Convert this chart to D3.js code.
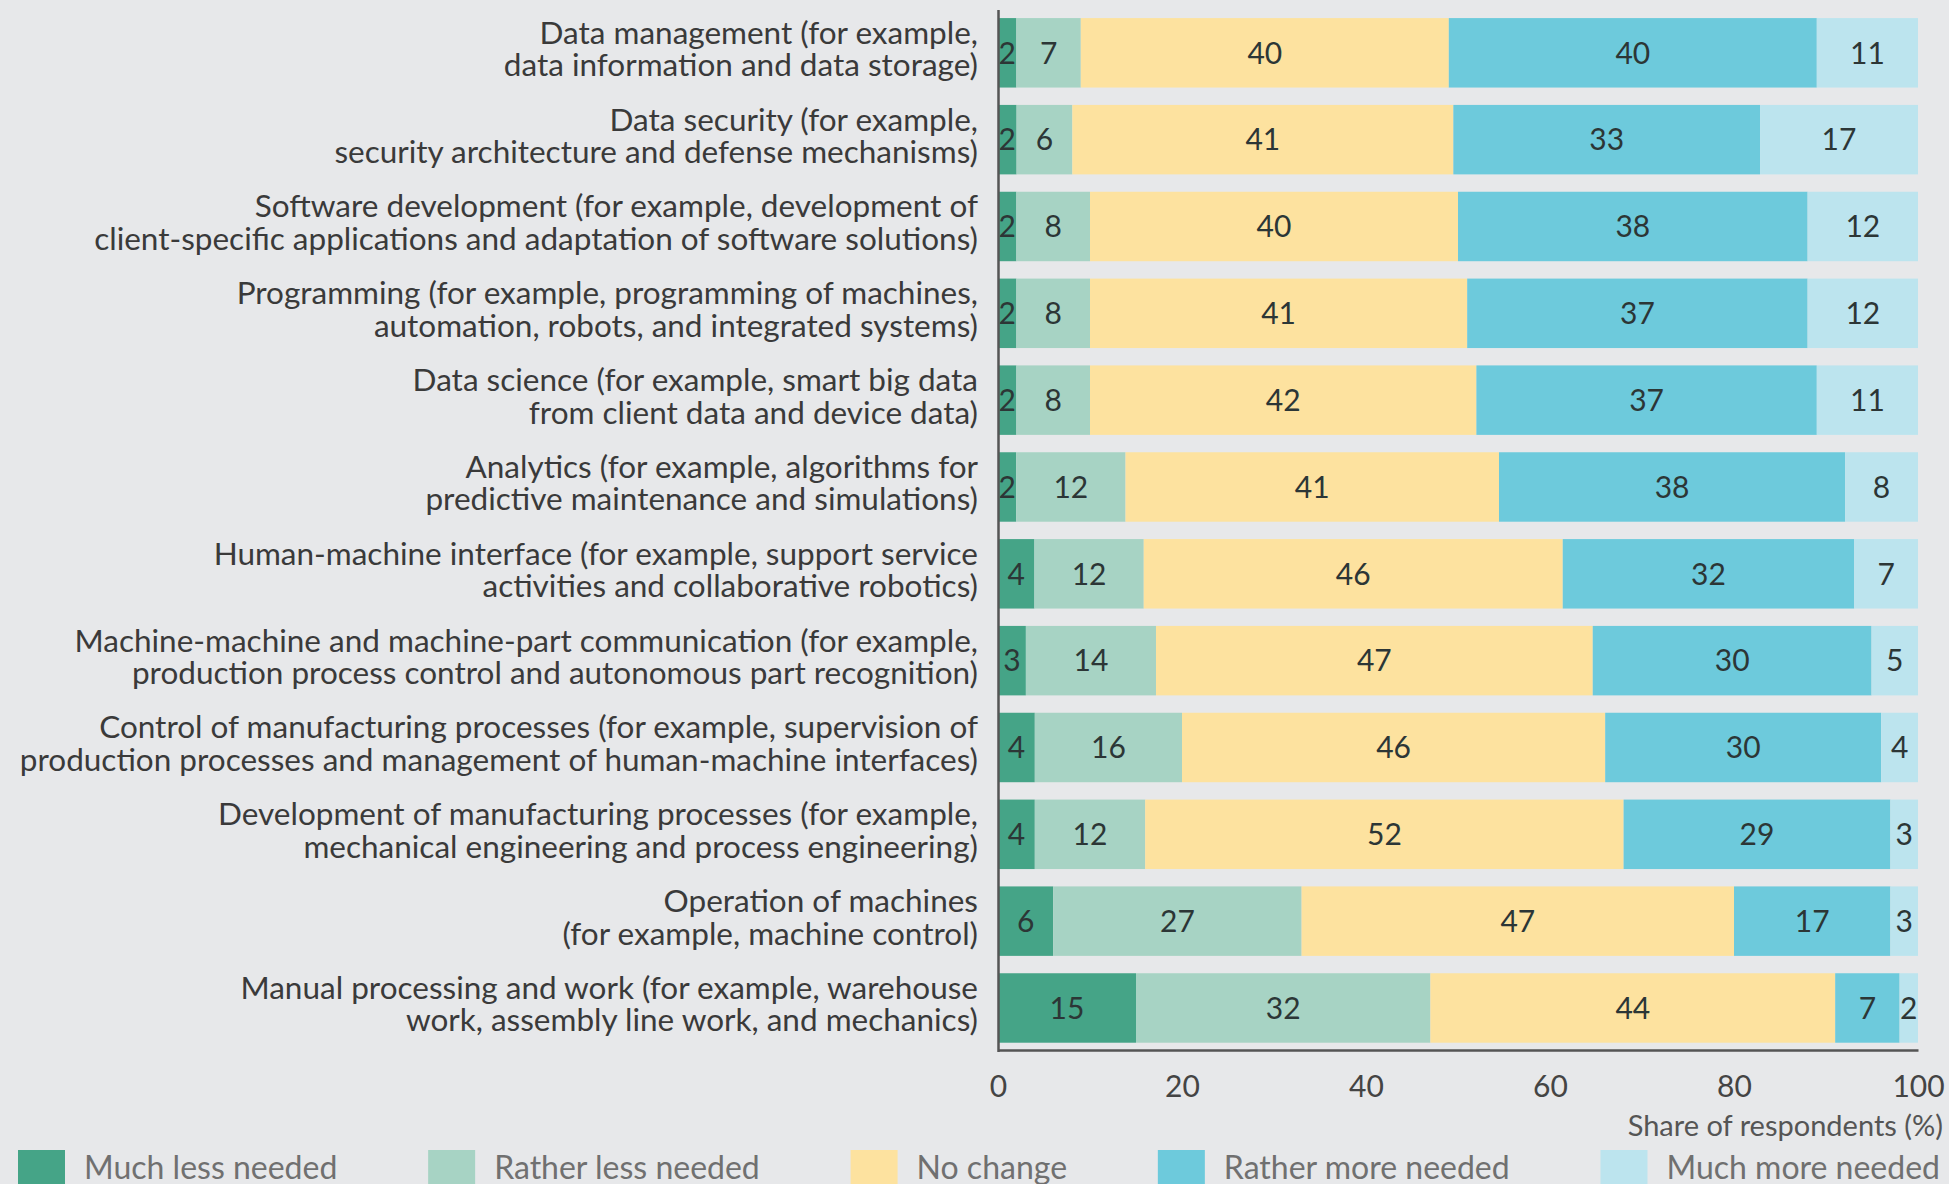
<!DOCTYPE html>
<html>
<head>
<meta charset="utf-8">
<script src="https://cdn.jsdelivr.net/npm/d3@7"></script>
<style>
  html, body { margin: 0; padding: 0; background: #e7e8ea; }
  svg { display: block; }
  text { font-family: Lato, "Open Sans", sans-serif; }
</style>
</head>
<body>
<svg id="chart" width="1949" height="1184"></svg>
<script>
// ---------- data ----------
const categories = [
  "Data management (for example,\ndata information and data storage)",
  "Data security (for example,\nsecurity architecture and defense mechanisms)",
  "Software development (for example, development of\nclient-specific applications and adaptation of software solutions)",
  "Programming (for example, programming of machines,\nautomation, robots, and integrated systems)",
  "Data science (for example, smart big data\nfrom client data and device data)",
  "Analytics (for example, algorithms for\npredictive maintenance and simulations)",
  "Human-machine interface (for example, support service\nactivities and collaborative robotics)",
  "Machine-machine and machine-part communication (for example,\nproduction process control and autonomous part recognition)",
  "Control of manufacturing processes (for example, supervision of\nproduction processes and management of human-machine interfaces)",
  "Development of manufacturing processes (for example,\nmechanical engineering and process engineering)",
  "Operation of machines\n(for example, machine control)",
  "Manual processing and work (for example, warehouse\nwork, assembly line work, and mechanics)"
];
const seriesNames = ["Much less needed", "Rather less needed", "No change", "Rather more needed", "Much more needed"];
const muchLess   = [2, 2, 2, 2, 2, 2, 4, 3, 4, 4, 6, 15];
const ratherLess = [7, 6, 8, 8, 8, 12, 12, 14, 16, 12, 27, 32];
const noChange   = [40, 41, 40, 41, 42, 41, 46, 47, 46, 52, 47, 44];
const ratherMore = [40, 33, 38, 37, 37, 38, 32, 30, 30, 29, 17, 7];
const muchMore   = [11, 17, 12, 12, 11, 8, 7, 5, 4, 3, 3, 2];
const xTicks = [0, 20, 40, 60, 80, 100];
const xAxisTitle = "Share of respondents (%)";

// ---------- styles ----------
const colors = ["#45a487", "#a7d3c4", "#fde29f", "#6dcadc", "#bce4ee"];
const seriesValues = [muchLess, ratherLess, noChange, ratherMore, muchMore];

// rows (shares normalised to 100 so each bar spans the full width)
const rows = categories.map((c, i) => {
  const vals = seriesValues.map(s => s[i]);
  const sum = d3.sum(vals);
  const r = { category: c };
  seriesNames.forEach((k, j) => { r[k] = vals[j] * 100 / sum; r[k + "_label"] = vals[j]; });
  return r;
});

const svg = d3.select("#chart");
svg.append("rect").attr("width", 1949).attr("height", 1184).attr("fill", "#e7e8ea");

const x = d3.scaleLinear().domain([0, 100]).range([998, 1918]);
const y = d3.scaleBand().domain(categories).range([9.4, 1051.4]).paddingInner(0.2).paddingOuter(0.1);
const color = d3.scaleOrdinal().domain(seriesNames).range(colors);

const stacked = d3.stack().keys(seriesNames)(rows);

const layers = svg.append("g").selectAll("g").data(stacked).join("g")
  .attr("fill", d => color(d.key));

layers.selectAll("rect").data(d => d.map(p => ({ p, key: d.key }))).join("rect")
  .attr("x", d => x(d.p[0]))
  .attr("y", d => y(d.p.data.category))
  .attr("width", d => x(d.p[1]) - x(d.p[0]))
  .attr("height", y.bandwidth());

layers.selectAll("text").data(d => d.map(p => ({ p, key: d.key }))).join("text")
  .attr("x", d => (x(d.p[0]) + x(d.p[1])) / 2)
  .attr("y", d => y(d.p.data.category) + y.bandwidth() / 2)
  .attr("dy", "0.36em")
  .attr("text-anchor", "middle")
  .attr("font-size", 30)
  .attr("fill", "#2c3636")
  .text(d => d.p.data[d.key + "_label"]);

// category labels
const labels = svg.append("g").selectAll("text").data(categories).join("text")
  .attr("text-anchor", "end")
  .attr("font-size", 31.5)
  .attr("fill", "#3a3a3a");
labels.each(function (c) {
  const lines = c.split("\n");
  const cy = y(c) + y.bandwidth() / 2;
  d3.select(this).selectAll("tspan").data(lines).join("tspan")
    .attr("x", 978)
    .attr("y", (l, i) => cy - 9 + i * 32.5)
    .text(l => l);
});

// axes
const xAxis = svg.append("g").attr("transform", "translate(0,1050)")
  .call(d3.axisBottom(x).tickValues(xTicks).tickSize(0).tickSizeOuter(0).tickPadding(26));
xAxis.select(".domain").attr("stroke", "#555").attr("stroke-width", 2.5);
xAxis.selectAll(".tick text").attr("font-size", 30).attr("fill", "#444")
  .style("font-family", "Lato, sans-serif");

const yAxis = svg.append("g").attr("transform", "translate(998,0)")
  .call(d3.axisLeft(y).tickSize(0).tickSizeOuter(0).tickFormat(""));
yAxis.select(".domain").attr("stroke", "#555").attr("stroke-width", 2.5);

svg.append("text").attr("x", 1943).attr("y", 1136).attr("text-anchor", "end")
  .attr("font-size", 29).attr("fill", "#555").text(xAxisTitle);

// legend
const legend = svg.append("g");
const items = legend.selectAll("g").data(seriesNames).join("g");
items.append("rect").attr("width", 47).attr("height", 40).attr("y", 1150)
  .attr("fill", d => color(d));
items.append("text").attr("x", 66).attr("y", 1179).attr("font-size", 32)
  .attr("fill", "#707070").text(d => d);
// lay out: first at 18, last text ending at 1940, equal gaps between items
const textW = [];
items.select("text").each(function () { textW.push(this.getComputedTextLength()); });
const itemW = textW.map(t => 66 + t);
const total = d3.sum(itemW);
const gap = (1940 - 18 - total) / (seriesNames.length - 1);
let cx = 18;
items.each(function (d, i) {
  d3.select(this).attr("transform", `translate(${cx},0)`);
  cx += itemW[i] + gap;
});
</script>
</body>
</html>
